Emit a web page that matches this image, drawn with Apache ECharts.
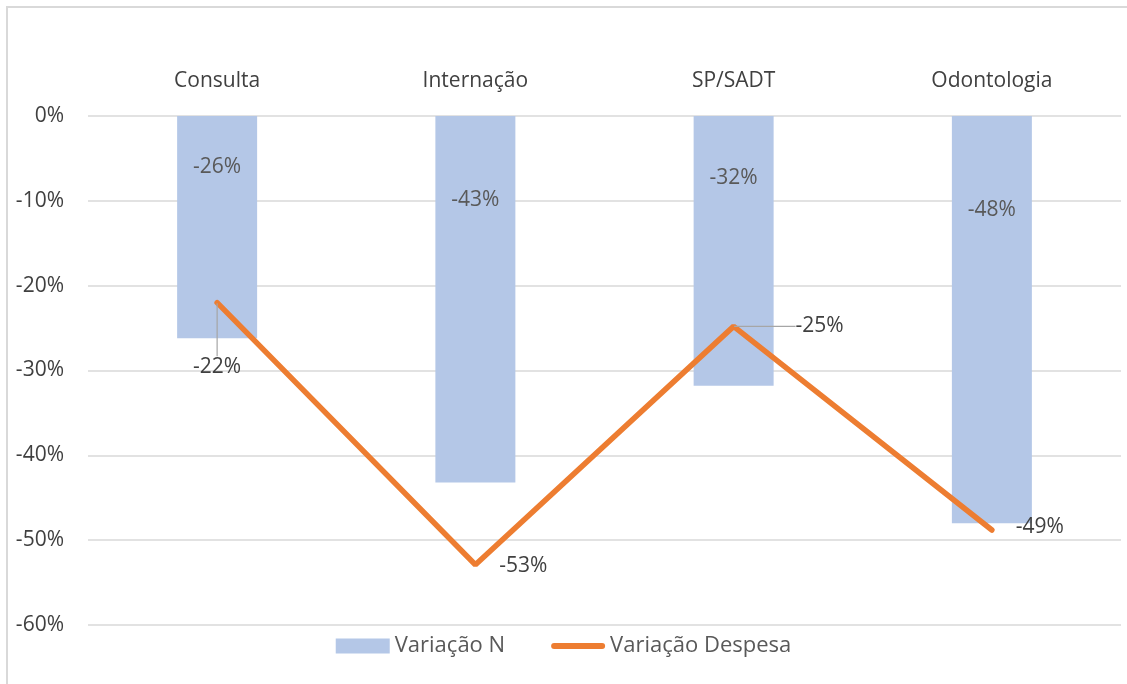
<!DOCTYPE html>
<html>
<head>
<meta charset="utf-8">
<script src="https://cdn.jsdelivr.net/npm/echarts@6/dist/echarts.min.js"></script>
<style>
  html, body { margin: 0; padding: 0; background: #fff; }
  #chart { width: 1127px; height: 684px; }
  #frame { position: absolute; left: 6px; top: 6px; right: 0; bottom: 0;
           border-left: 2px solid #d9d9d9; border-top: 2px solid #d9d9d9; pointer-events: none; }
</style>
</head>
<body>
<div id="chart"></div>
<div id="frame"></div>
<script>
  const categories = ['Consulta', 'Internação', 'SP/SADT', 'Odontologia']
  const variacaoN = [-0.262, -0.432, -0.318, -0.48]
  const variacaoDespesa = [-0.22, -0.529, -0.248, -0.488]
  // where each line label sits relative to its point, and whether it has a leader line
  const lineLabelShift = [[0, 64], [48, 1], [86, 0], [48, -3]]
  const lineLabelLeader = [true, false, true, false]

  const font = '"Open Sans", "Noto Sans", sans-serif'
  const pct = v => Math.round(v * 100) + '%'

  let chart = echarts.init(document.getElementById('chart'))
  let option = {
    animation: false,
    textStyle: { fontFamily: font },
    grid: { left: 88, right: 6, top: 116, bottom: 59 },
    legend: {
      bottom: 22,
      left: 'center',
      itemGap: 46,
      itemWidth: 54,
      itemHeight: 15,
      textStyle: { fontSize: 22, color: '#595959', fontFamily: font },
      data: [
        { name: 'Variação N', icon: 'rect' },
        { name: 'Variação Despesa', icon: 'path://M3,0 H51 A3,3 0 0 1 51,6 H3 A3,3 0 0 1 3,0 Z' }
      ]
    },
    xAxis: {
      type: 'category',
      position: 'top',
      data: categories,
      axisLine: { show: false },
      axisTick: { show: false },
      axisLabel: { fontSize: 21, color: '#404040', margin: 24 }
    },
    yAxis: {
      type: 'value',
      min: -0.6,
      max: 0,
      interval: 0.1,
      axisLabel: {
        formatter: v => pct(v),
        fontSize: 21,
        color: '#404040',
        margin: 24
      },
      splitLine: { lineStyle: { color: '#d9d9d9', width: 1.5 } },
      axisLine: { show: false },
      axisTick: { show: false }
    },
    series: [
      {
        name: 'Variação N',
        type: 'bar',
        data: variacaoN,
        barWidth: 80,
        itemStyle: { color: '#b4c7e7' },
        label: {
          show: true,
          position: ['50%', '23%'],
          align: 'center',
          verticalAlign: 'middle',
          fontSize: 21,
          color: '#595959',
          formatter: p => pct(p.value)
        }
      },
      {
        name: 'Variação Despesa',
        type: 'line',
        data: variacaoDespesa.map((v, i) => ({
          value: v,
          labelLine: { show: lineLabelLeader[i] }
        })),
        symbol: 'circle',
        symbolSize: 1,
        showSymbol: true,
        lineStyle: { color: '#ed7d31', width: 5.5, cap: 'round' },
        itemStyle: { color: '#ed7d31' },
        label: {
          show: true,
          position: 'inside',
          fontSize: 21,
          color: '#404040',
          formatter: p => pct(p.value)
        },
        labelLine: { show: true, lineStyle: { color: '#a6a6a6', width: 1.2 } },
        labelLayout: p => ({ dx: lineLabelShift[p.dataIndex][0], dy: lineLabelShift[p.dataIndex][1] })
      }
    ]
  }
  chart.setOption(option)
</script>
</body>
</html>
